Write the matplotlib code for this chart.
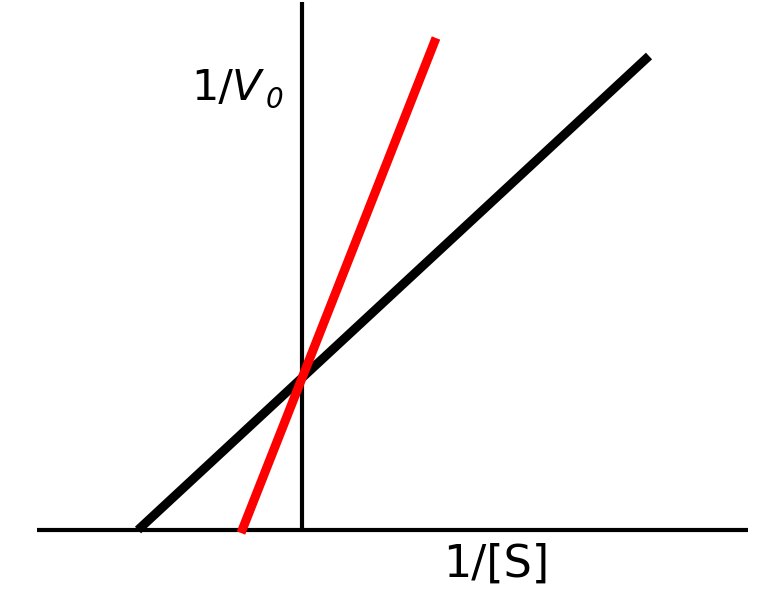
import matplotlib.pyplot as plt

# Lineweaver-Burk style sketch, data in arbitrary units
black_x = [-164, 347]
black_y = [0, 474]
red_x = [-61, 134]
red_y = [-3, 492]

x_axis = [-265, 446]
y_axis = [0, 528]

fig = plt.figure(figsize=(7.8, 6.03), dpi=100)
ax = fig.add_axes([0, 0, 1, 1])
ax.set_xlim(-302, 478)
ax.set_ylim(-73, 530)
ax.axis('off')

ax.plot(x_axis, [0, 0], color='black', lw=3, solid_capstyle='butt')
ax.plot([0, 0], y_axis, color='black', lw=3, solid_capstyle='butt')
ax.plot(black_x, black_y, color='black', lw=6.5, solid_capstyle='butt')
ax.plot(red_x, red_y, color='#ff0000', lw=6.5, solid_capstyle='butt')

# y label built from pieces so the subscript can be italic
ax.text(-111, 430, '1/', fontsize=31, ha='left', va='baseline')
ax.text(-70, 430, 'V', fontsize=31, style='italic', ha='left', va='baseline')
ax.text(-36, 422, '0', fontsize=20, style='italic', ha='left', va='baseline')
ax.text(194, -47, '1/[S]', fontsize=32, ha='center', va='baseline')

fig.savefig('out.png', dpi=100)
